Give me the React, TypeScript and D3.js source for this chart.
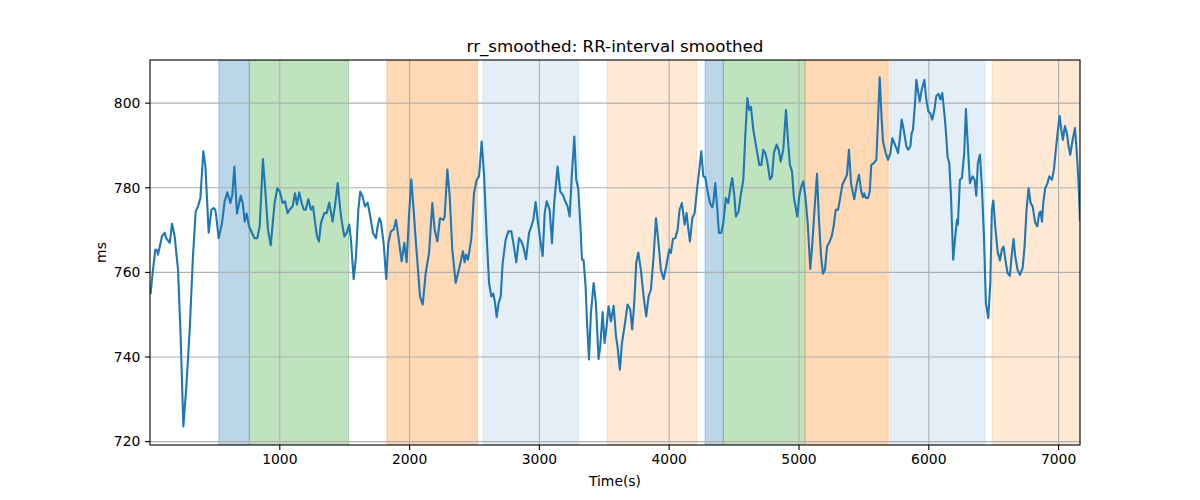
import * as React from 'react';
import {scaleLinear, line} from 'd3';

// RR-interval smoothed trace
const timeSec = [
    5, 23, 41, 55, 62, 92, 113, 125, 152, 170, 190, 216, 236, 257, 280, 306, 331, 352, 370, 388,
    411, 427, 452, 473, 490, 503, 511, 529, 555, 575, 596, 619, 634, 650, 670, 699, 714, 730, 745, 763,
    786, 805, 827, 845, 870, 888, 909, 930, 948, 960, 981, 1000, 1022, 1040, 1060, 1075, 1099, 1117, 1132, 1150,
    1168, 1185, 1200, 1220, 1240, 1256, 1266, 1286, 1302, 1317, 1343, 1361, 1381, 1407, 1428, 1446, 1466, 1479, 1497, 1517,
    1535, 1548, 1569, 1587, 1605, 1620, 1638, 1656, 1677, 1697, 1718, 1741, 1754, 1767, 1779, 1800, 1820, 1836, 1856, 1877,
    1895, 1913, 1939, 1959, 1977, 1995, 2013, 2031, 2047, 2065, 2080, 2101, 2124, 2150, 2175, 2193, 2214, 2234, 2260, 2270,
    2291, 2309, 2329, 2355, 2373, 2394, 2411, 2424, 2435, 2450, 2476, 2496, 2517, 2535, 2555, 2573, 2594, 2612, 2630, 2645,
    2658, 2671, 2686, 2702, 2717, 2740, 2761, 2784, 2804, 2822, 2843, 2861, 2876, 2897, 2920, 2938, 2953, 2971, 2989, 3010,
    3025, 3041, 3056, 3079, 3097, 3114, 3140, 3161, 3181, 3199, 3217, 3233, 3251, 3269, 3284, 3299, 3315, 3328, 3340, 3356,
    3366, 3382, 3397, 3418, 3435, 3456, 3469, 3487, 3502, 3515, 3533, 3551, 3572, 3590, 3602, 3620, 3636, 3656, 3679, 3700,
    3715, 3731, 3746, 3762, 3782, 3803, 3823, 3841, 3859, 3880, 3898, 3918, 3936, 3957, 3977, 4000, 4013, 4029, 4047, 4065,
    4080, 4098, 4119, 4134, 4145, 4160, 4178, 4196, 4217, 4232, 4247, 4263, 4278, 4294, 4314, 4332, 4340, 4355, 4371, 4383,
    4401, 4417, 4437, 4455, 4473, 4486, 4502, 4514, 4535, 4550, 4571, 4586, 4602, 4617, 4630, 4648, 4674, 4694, 4710, 4725,
    4740, 4756, 4776, 4792, 4807, 4828, 4843, 4859, 4879, 4900, 4915, 4930, 4946, 4961, 4987, 5002, 5018, 5033, 5049, 5067,
    5087, 5103, 5121, 5139, 5154, 5170, 5185, 5200, 5216, 5231, 5252, 5267, 5283, 5301, 5313, 5334, 5352, 5370, 5385, 5401,
    5416, 5426, 5447, 5462, 5480, 5493, 5503, 5514, 5532, 5545, 5557, 5575, 5596, 5609, 5622, 5637, 5647, 5668, 5686, 5704,
    5719, 5737, 5750, 5763, 5776, 5791, 5807, 5827, 5842, 5858, 5868, 5878, 5894, 5904, 5917, 5930, 5945, 5966, 5981, 5997,
    6012, 6027, 6043, 6058, 6076, 6089, 6104, 6122, 6135, 6145, 6158, 6171, 6188, 6204, 6217, 6224, 6240, 6255, 6273, 6286,
    6301, 6317, 6337, 6353, 6366, 6378, 6394, 6409, 6425, 6440, 6458, 6474, 6486, 6497, 6512, 6530, 6548, 6563, 6576, 6594,
    6607, 6625, 6638, 6653, 6666, 6684, 6702, 6723, 6738, 6753, 6769, 6784, 6800, 6820, 6836, 6851, 6861, 6872, 6882, 6897,
    6915, 6928, 6949, 6964, 6979, 6995, 7008, 7021, 7033, 7049, 7064, 7077, 7090, 7108, 7126, 7139, 7154, 7165
];

const rrMs = [
    755.1, 760.6, 765.4, 765.2, 764.2, 768.5, 769.4, 768.1, 767.0, 771.5, 768.5, 760.6, 744.9, 723.6, 733.0, 746.5, 763.8, 774.4, 775.6, 777.6,
    788.6, 785.0, 769.4, 774.8, 775.2, 774.8, 773.0, 768.1, 771.7, 776.8, 778.9, 776.4, 778.3, 785.0, 773.9, 778.1, 776.4, 772.0, 773.9, 770.9,
    769.3, 768.1, 768.1, 770.9, 786.8, 779.5, 770.1, 766.4, 772.4, 776.4, 779.9, 779.1, 776.4, 776.8, 774.0, 774.8, 775.6, 778.7, 776.0, 778.9,
    776.4, 774.8, 774.8, 777.3, 774.8, 775.6, 773.2, 768.5, 767.3, 771.7, 774.0, 774.0, 776.5, 772.0, 776.4, 781.1, 774.8, 771.7, 768.5, 769.4,
    771.3, 767.7, 758.4, 763.8, 774.8, 779.1, 777.9, 775.6, 776.5, 773.2, 769.3, 768.1, 770.9, 772.8, 772.0, 766.9, 758.4, 766.9, 769.7, 770.1,
    772.4, 768.5, 762.6, 767.0, 762.4, 773.2, 782.0, 774.8, 767.7, 760.6, 754.3, 752.4, 759.8, 764.6, 776.4, 770.1, 767.3, 772.8, 772.4, 773.2,
    784.3, 778.0, 765.4, 757.5, 759.8, 762.6, 765.0, 762.4, 764.2, 763.0, 768.1, 778.7, 781.9, 782.7, 790.9, 783.5, 768.5, 757.5, 754.3, 755.0,
    752.8, 749.4, 752.8, 754.3, 762.2, 767.7, 769.7, 769.7, 766.1, 762.4, 768.1, 767.3, 766.1, 763.1, 769.3, 770.9, 772.4, 776.6, 771.7, 766.9,
    763.9, 774.0, 776.8, 774.8, 766.9, 776.4, 785.0, 779.1, 778.3, 776.8, 775.6, 773.2, 783.5, 792.1, 781.9, 779.9, 771.7, 763.0, 763.0, 756.7,
    748.8, 739.4, 750.4, 757.5, 752.8, 739.5, 742.5, 750.6, 743.3, 746.5, 752.0, 748.4, 752.1, 744.9, 742.5, 737.0, 743.3, 747.2, 752.4, 751.2,
    746.5, 752.8, 762.2, 764.7, 760.6, 754.3, 749.6, 754.3, 755.9, 763.8, 772.8, 766.9, 760.6, 758.4, 761.4, 765.4, 764.6, 767.9, 768.1, 770.1,
    774.8, 776.4, 771.3, 774.0, 770.9, 767.3, 772.8, 774.0, 780.3, 784.3, 788.6, 782.7, 782.5, 779.5, 776.4, 775.4, 776.4, 781.1, 774.8, 769.3,
    769.3, 771.7, 777.6, 776.4, 780.3, 782.3, 778.0, 773.2, 774.4, 778.0, 781.9, 792.1, 801.2, 798.4, 799.1, 793.7, 789.0, 785.4, 785.4, 789.0,
    788.2, 786.2, 782.0, 782.7, 788.3, 790.2, 789.0, 786.2, 789.0, 798.4, 791.3, 785.4, 783.9, 777.6, 773.2, 778.0, 780.3, 781.5, 778.0, 771.7,
    760.8, 766.9, 775.5, 783.3, 772.4, 763.8, 759.7, 760.6, 766.1, 766.9, 768.5, 770.9, 774.8, 774.8, 776.8, 780.7, 781.9, 783.1, 789.0, 781.1,
    778.7, 777.3, 781.1, 783.1, 779.1, 777.8, 778.7, 777.6, 777.6, 779.1, 785.4, 785.8, 786.6, 796.1, 806.1, 796.1, 791.0, 788.2, 786.6, 788.2,
    791.7, 790.4, 789.4, 788.2, 791.3, 796.1, 793.7, 789.8, 789.0, 789.8, 792.9, 793.7, 800.0, 805.5, 802.8, 800.4, 803.1, 805.5, 800.8, 798.0,
    797.6, 796.1, 798.4, 801.7, 802.2, 800.8, 802.4, 797.0, 792.0, 787.2, 785.8, 778.0, 763.0, 768.5, 772.4, 771.3, 781.9, 782.3, 788.2, 798.6,
    789.8, 781.1, 782.7, 781.9, 778.1, 785.8, 787.8, 780.3, 768.5, 752.8, 749.2, 757.5, 774.8, 777.0, 770.9, 765.0, 762.8, 765.4, 766.1, 762.2,
    759.8, 759.2, 763.8, 767.9, 763.8, 760.6, 759.4, 761.0, 766.1, 774.8, 779.9, 776.4, 775.6, 771.7, 770.9, 774.0, 774.4, 772.0, 776.4, 779.9,
    781.1, 782.7, 781.9, 784.3, 789.0, 793.7, 797.0, 793.7, 791.3, 794.6, 792.9, 789.8, 787.8, 791.3, 794.1, 789.0, 781.1, 772.4
];

// shaded phases
const spanStart = [530, 765, 1825, 2565, 3521, 4276, 4417, 5046, 5701, 6487];
const spanEnd = [765, 1530, 2524, 3302, 4212, 4417, 5046, 5688, 6433, 7165];
const spanColor = ['#1f77b4', '#2ca02c', '#ff7f0e', '#1f77b4', '#ff7f0e', '#1f77b4', '#2ca02c', '#ff7f0e', '#1f77b4', '#ff7f0e'];
const spanAlpha = [0.3, 0.3, 0.3, 0.12, 0.18, 0.3, 0.3, 0.3, 0.12, 0.18];

const xTicks = [1000, 2000, 3000, 4000, 5000, 6000, 7000];
const yTicks = [720, 740, 760, 780, 800];

const margin = {top: 60, right: 120, bottom: 55, left: 150};
const W = 1200;
const H = 500;
const width = W - margin.left - margin.right;
const height = H - margin.top - margin.bottom;

const xScale = scaleLinear().domain([0, 7165]).range([0, width]);
const yScale = scaleLinear().domain([719.2, 810.2]).range([height, 0]);

const font = 'DejaVu Sans, sans-serif';

export default function App() {
    const pts = timeSec.map((t, i) => [t, rrMs[i]] as [number, number]);
    const path = line<[number, number]>()
        .x(d => xScale(d[0]))
        .y(d => yScale(d[1]))(pts) || '';

    return (
        <svg width={W} height={H} style={{position: 'absolute', left: 0, top: 0}} fontFamily={font}>
            <rect width={W} height={H} fill='white'/>
            <g transform={`translate(${margin.left}, ${margin.top})`}>
                <defs>
                    <clipPath id='plot'>
                        <rect width={width} height={height}/>
                    </clipPath>
                </defs>
                <g clipPath='url(#plot)'>
                    {spanStart.map((s, i) =>
                        <rect
                            key={i}
                            x={xScale(s)}
                            y={0}
                            width={xScale(spanEnd[i]) - xScale(s)}
                            height={height}
                            fill={spanColor[i]}
                            fillOpacity={spanAlpha[i]}
                            stroke={spanColor[i]}
                            strokeOpacity={spanAlpha[i]}
                            strokeWidth={1}
                        />
                    )}
                    {xTicks.map(t =>
                        <line key={t} x1={xScale(t)} x2={xScale(t)} y1={0} y2={height} stroke='#b0b0b0' strokeWidth={1.1}/>
                    )}
                    {yTicks.map(t =>
                        <line key={t} x1={0} x2={width} y1={yScale(t)} y2={yScale(t)} stroke='#b0b0b0' strokeWidth={1.1}/>
                    )}
                    <path d={path} fill='none' stroke='#1f77b4' strokeWidth={2.1} strokeLinejoin='round' strokeLinecap='square'/>
                </g>
                <rect width={width} height={height} fill='none' stroke='black' strokeWidth={1.1}/>

                {xTicks.map(t =>
                    <g key={t} transform={`translate(${xScale(t)}, ${height})`}>
                        <line y2={4.9} stroke='black' strokeWidth={1.1}/>
                        <text y={19} textAnchor='middle' fontSize={13.9} fill='black'>{t}</text>
                    </g>
                )}
                {yTicks.map(t =>
                    <g key={t} transform={`translate(0, ${yScale(t)})`}>
                        <line x2={-4.9} stroke='black' strokeWidth={1.1}/>
                        <text x={-9.7} dy='0.35em' textAnchor='end' fontSize={13.9} fill='black'>{t}</text>
                    </g>
                )}

                <text x={width / 2} y={height + 41} textAnchor='middle' fontSize={13.9}>Time(s)</text>
                <text transform={`translate(${-44}, ${height / 2}) rotate(-90)`} textAnchor='middle' fontSize={13.9}>ms</text>
                <text x={width / 2} y={-8} textAnchor='middle' fontSize={16.7}>rr_smoothed: RR-interval smoothed</text>
            </g>
        </svg>
    );
}
